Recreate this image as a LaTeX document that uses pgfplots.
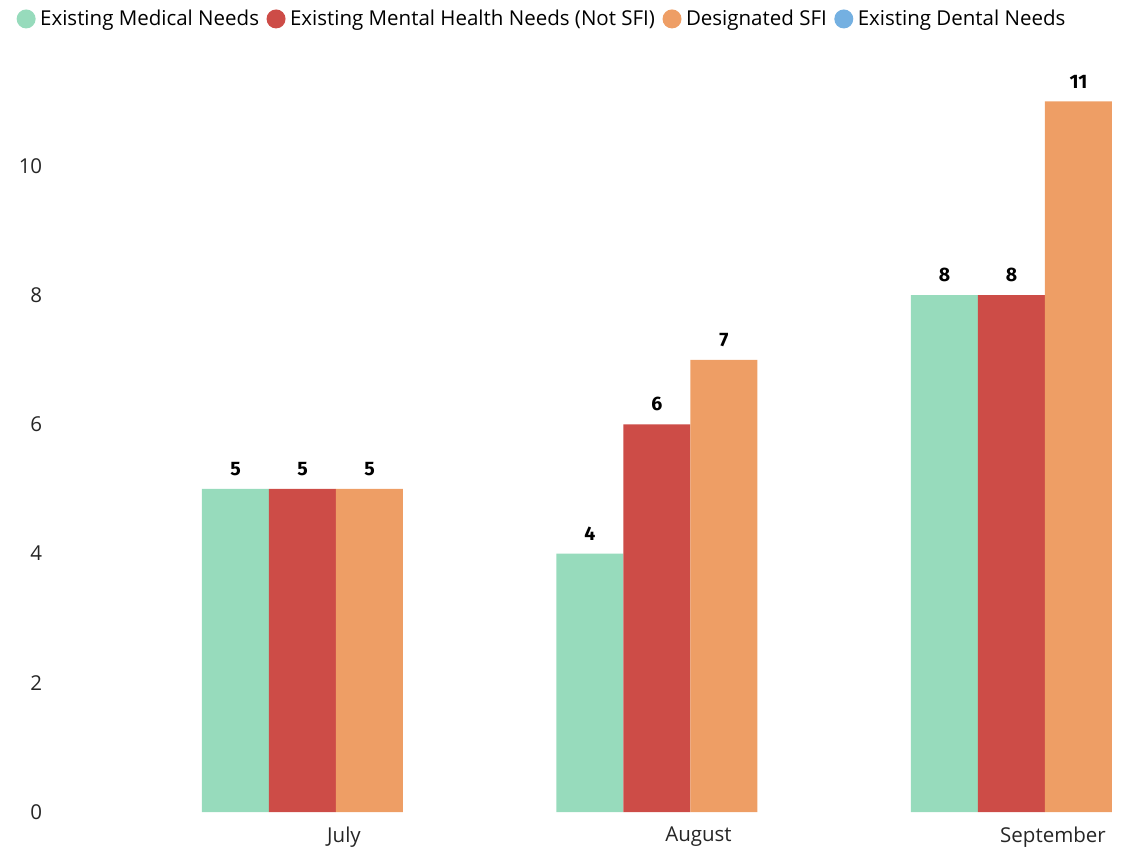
\documentclass[border=0pt]{standalone}
\usepackage{fontspec}
\setmainfont{Open Sans}
\newfontfamily\lblfont{Fira Sans}
\usepackage{pgfplots}
\pgfplotsset{compat=1.18}
\definecolor{cgreen}{HTML}{97DBBC}
\definecolor{cred}{HTML}{CD4C47}
\definecolor{corange}{HTML}{EE9E65}
\definecolor{cblue}{HTML}{74B0E1}
\begin{document}
\begin{tikzpicture}[x=1pt,y=1pt]
\useasboundingbox (0,0) rectangle (1130,849);
\begin{axis}[
  at={(52.4pt,37pt)}, anchor=south west,
  scale only axis, width=1063.5pt, height=742.9pt,
  xmin=-0.8, xmax=2.2, ymin=0, ymax=11.5,
  /pgf/number format/assume math mode=true,
  axis line style={draw=none}, major tick length=0pt,
  xtick={0,1,2}, xticklabels={July,August,September},
  ytick={0,2,4,6,8,10},
  tick label style={font=\fontsize{20.5}{20.5}\selectfont, text=black!85},
  yticklabel style={inner sep=0pt, anchor=east, xshift=-10pt},
  xticklabel style={inner sep=0pt, anchor=north, yshift=-15pt, xshift=8pt},
  ybar, bar width=67pt,
  nodes near coords,
  nodes near coords style={font=\lblfont\bfseries\fontsize{19.5}{19.5}\selectfont, anchor=south, inner sep=0pt, yshift=13pt, text=black},
  legend image code/.code={\fill[#1] (9.5pt,0pt) circle (9.5pt); \path (22pt,0pt);},
  legend columns=-1,
  legend style={at={(axis description cs:-0.0338,1.0675)}, anchor=west, draw=none, fill=none, inner sep=0pt,
    font=\fontsize{20.5}{20.5}\selectfont,
    nodes={inner xsep=1.5pt, inner ysep=2pt},
    /tikz/every even column/.append style={column sep=6pt}},
]
\addplot[fill=cgreen, draw=none, bar shift=-100.5pt] coordinates {(0,5) (1,4) (2,8)};
\addlegendentry{Existing Medical Needs}
\addplot[fill=cred, draw=none, bar shift=-33.5pt] coordinates {(0,5) (1,6) (2,8)};
\addlegendentry{Existing Mental Health Needs (Not SFI)}
\addplot[fill=corange, draw=none, bar shift=33.5pt] coordinates {(0,5) (1,7) (2,11)};
\addlegendentry{Designated SFI}
\addlegendimage{fill=cblue, draw=none}
\addlegendentry{Existing Dental Needs}
\end{axis}
\end{tikzpicture}
\end{document}
